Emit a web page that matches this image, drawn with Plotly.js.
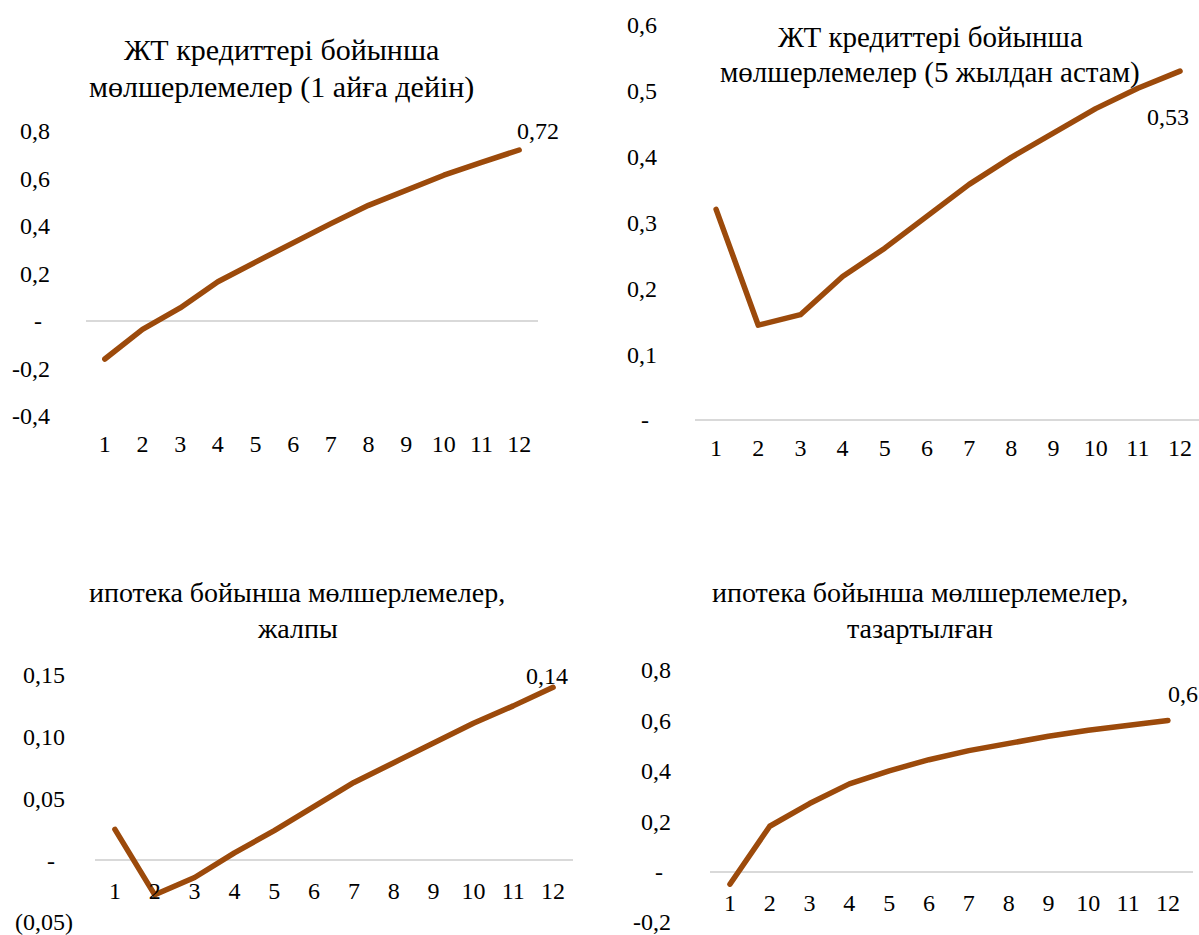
<!DOCTYPE html>
<html>
<head>
<meta charset="utf-8">
<script src="https://cdn.plot.ly/plotly-3.0.1.min.js"></script>
<style>
  html, body { margin: 0; padding: 0; background: #ffffff; }
  #chart { width: 1199px; height: 935px; }
  .scatterlayer path.js-line { stroke-linejoin: round; stroke-linecap: round; }
</style>
</head>
<body>
<div id="chart"></div>
<script>
// Forecast horizon (months)
const horizon = [1, 2, 3, 4, 5, 6, 7, 8, 9, 10, 11, 12];

// Rate responses by horizon
const smeShortRates = [-0.16, -0.035, 0.055, 0.165, 0.248, 0.33, 0.41, 0.487, 0.552, 0.614, 0.668, 0.72];
const smeLongRates = [0.32, 0.144, 0.16, 0.218, 0.261, 0.309, 0.358, 0.399, 0.437, 0.473, 0.504, 0.53];
const mortgageTotalRates = [0.025, -0.028, -0.014, 0.006, 0.024, 0.044, 0.063, 0.079, 0.095, 0.111, 0.125, 0.14];
const mortgageCleanRates = [-0.05, 0.18, 0.27, 0.348, 0.40, 0.444, 0.48, 0.51, 0.537, 0.561, 0.58, 0.6];

// Panel titles (two lines each)
const titleSmeShort = ["ЖТ кредиттері бойынша", "мөлшерлемелер (1 айға дейін)"];
const titleSmeLong = ["ЖТ кредиттері бойынша", "мөлшерлемелер (5 жылдан астам)"];
const titleMortTotal = ["ипотека бойынша мөлшерлемелер,", "жалпы"];
const titleMortClean = ["ипотека бойынша мөлшерлемелер,", "тазартылған"];

// Y tick values and their labels
const yTicksSmeShort = [-0.4, -0.2, 0, 0.2, 0.4, 0.6, 0.8];
const yLabelsSmeShort = ["-0,4", "-0,2", "-\u2004", "0,2", "0,4", "0,6", "0,8"];
const yTicksSmeLong = [0, 0.1, 0.2, 0.3, 0.4, 0.5, 0.6];
const yLabelsSmeLong = ["-\u2004", "0,1", "0,2", "0,3", "0,4", "0,5", "0,6"];
const yTicksMortTotal = [-0.05, 0, 0.05, 0.10, 0.15];
const yLabelsMortTotal = ["(0,05)", "-\u2007\u2005", "0,05\u2004", "0,10\u2004", "0,15\u2004"];
const yTicksMortClean = [-0.2, 0, 0.2, 0.4, 0.6, 0.8];
const yLabelsMortClean = ["-0,2", "-\u2004", "0,2", "0,4", "0,6", "0,8"];

const W = 1199, H = 935;
const FONT = "Liberation Serif";
const TICK_SIZE = 24;
const LINE_COLOR = "#9C4A0B";
const ZERO_COLOR = "#d9d9d9";

const px = v => v / W;
const py = v => 1 - v / H;

// Panel geometry in page pixels
const panels = [
  { ys: smeShortRates, title: titleSmeShort, titleY: [50, 87], titleX: 281, titleSize: 30,
    xPx: [86, 538], xRange: [0.5, 12.5], yPx: [131, 416], yRange: [-0.4, 0.8],
    ticks: yTicksSmeShort, labels: yLabelsSmeShort, axisAtZero: false,
    dec: 2, lblShift: [19, 19], yStand: 35 },
  { ys: smeLongRates, title: titleSmeLong, titleY: [37, 72], titleX: 930, titleSize: 29,
    xPx: [695, 1199], xRange: [0.5, 12.45], yPx: [25, 420], yRange: [0, 0.6],
    ticks: yTicksSmeLong, labels: yLabelsSmeLong, axisAtZero: false,
    dec: 2, lblShift: [-12, -46], yStand: 37 },
  { ys: mortgageTotalRates, title: titleMortTotal, titleY: [592, 628], titleX: 297, titleSize: 28,
    xPx: [95, 573], xRange: [0.5, 12.5], yPx: [675, 922], yRange: [-0.05, 0.15],
    ticks: yTicksMortTotal, labels: yLabelsMortTotal, axisAtZero: true,
    dec: 2, lblShift: [-6, 11], yStand: 21 },
  { ys: mortgageCleanRates, title: titleMortClean, titleY: [592, 628], titleX: 920, titleSize: 28,
    xPx: [710, 1193], xRange: [0.5, 12.63], yPx: [670, 922], yRange: [-0.2, 0.8],
    ticks: yTicksMortClean, labels: yLabelsMortClean, axisAtZero: true,
    dec: 1, lblShift: [15, 26], yStand: 38 }
];

const data = [];
const layout = {
  width: W, height: H,
  margin: { l: 0, r: 0, t: 0, b: 0, pad: 0 },
  paper_bgcolor: "#ffffff",
  plot_bgcolor: "rgba(0,0,0,0)",
  showlegend: false,
  font: { family: FONT, size: TICK_SIZE, color: "#000000" },
  annotations: []
};

panels.forEach((p, i) => {
  const n = i + 1;
  const xa = "xaxis" + (n === 1 ? "" : n);
  const ya = "yaxis" + (n === 1 ? "" : n);
  const xr = "x" + (n === 1 ? "" : n);
  const yr = "y" + (n === 1 ? "" : n);

  data.push({
    type: "scatter", mode: "lines",
    x: horizon, y: p.ys,
    xaxis: xr, yaxis: yr,
    line: { color: LINE_COLOR, width: 5.5 },
    cliponaxis: false,
    hoverinfo: "skip"
  });

  // Small padding so the end ticks are kept
  const span = p.yRange[1] - p.yRange[0];
  const eps = span * 0.002;
  const pxPerUnit = (p.yPx[1] - p.yPx[0]) / span;
  const yTop = p.yPx[0] - eps * pxPerUnit;
  const yBot = p.yPx[1] + eps * pxPerUnit;
  const zeroPx = p.yPx[1] - (0 - p.yRange[0]) * pxPerUnit;

  layout[xa] = {
    domain: [px(p.xPx[0]), px(p.xPx[1])],
    range: p.xRange,
    tickvals: horizon,
    ticktext: horizon.map(String),
    showgrid: false, zeroline: false, showline: false, ticks: "",
    ticklabelstandoff: p.axisAtZero ? 14 : 10,
    ticklabeloverflow: "allow",
    tickfont: { family: FONT, size: TICK_SIZE, color: "#000000" },
    fixedrange: true
  };
  if (p.axisAtZero) {
    layout[xa].anchor = "free";
    layout[xa].position = py(zeroPx);
  } else {
    layout[xa].anchor = yr;
  }

  layout[ya] = {
    domain: [py(yBot), py(yTop)],
    range: [p.yRange[0] - eps, p.yRange[1] + eps],
    anchor: xr,
    tickvals: p.ticks,
    ticktext: p.labels,
    showgrid: false, showline: false, ticks: "",
    zeroline: true, zerolinecolor: ZERO_COLOR, zerolinewidth: 2,
    ticklabelstandoff: p.yStand,
    ticklabeloverflow: "allow",
    tickfont: { family: FONT, size: TICK_SIZE, color: "#000000" },
    fixedrange: true
  };

  // Value label at the last point
  const last = p.ys[p.ys.length - 1];
  layout.annotations.push({
    xref: xr, yref: yr,
    x: horizon[horizon.length - 1], y: last,
    text: last.toFixed(p.dec).replace(".", ","),
    showarrow: false,
    xshift: p.lblShift[0], yshift: p.lblShift[1],
    font: { family: FONT, size: TICK_SIZE, color: "#000000" }
  });

  // Panel title, one annotation per line
  p.title.forEach((line, k) => {
    layout.annotations.push({
      xref: "paper", yref: "paper",
      x: px(p.titleX), y: py(p.titleY[k]),
      xanchor: "center", yanchor: "middle",
      text: line, showarrow: false,
      font: { family: FONT, size: p.titleSize, color: "#000000" }
    });
  });
});

Plotly.newPlot("chart", data, layout, { displayModeBar: false, staticPlot: true });
</script>
</body>
</html>
